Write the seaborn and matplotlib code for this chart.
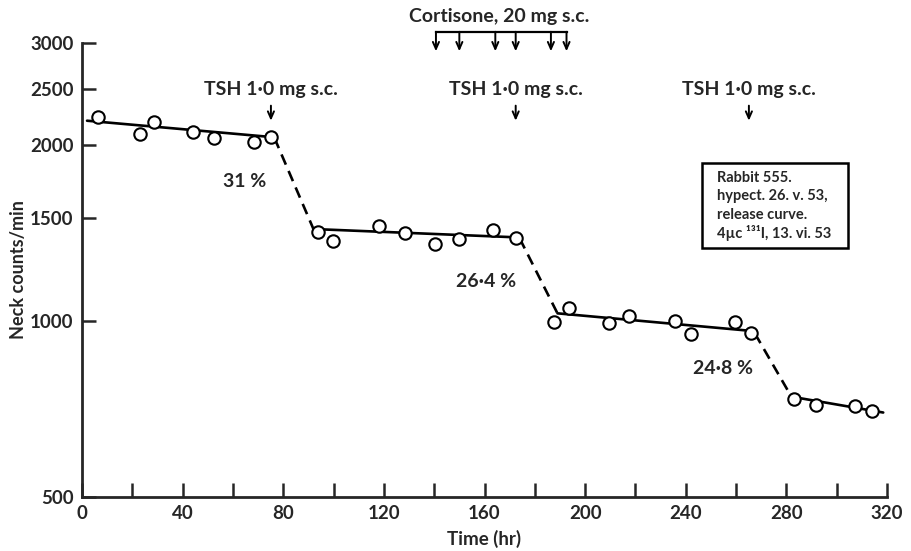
import numpy as np
import pandas as pd
import matplotlib
matplotlib.use("Agg")
import matplotlib.pyplot as plt
import matplotlib.ticker as mticker
from matplotlib.patches import Rectangle
import seaborn as sns

# ---- data ----
time_hr = [6.5, 23.1, 28.7, 44.2, 52.6, 68.5, 75.1,
           93.7, 99.9, 118.0, 128.4, 140.4, 150.0, 163.2, 172.4,
           187.6, 193.6, 209.6, 217.5, 235.8, 242.1, 259.4, 266.0,
           283.1, 291.9, 307.2, 313.9]
counts = [2234, 2094, 2196, 2111, 2060, 2025, 2065,
          1420, 1373, 1455, 1414, 1356, 1381, 1432, 1386,
          997, 1054, 991, 1021, 1002, 950, 996, 953,
          734, 717, 714, 702]

# fitted solid segments (start/end per phase)
fit_x = [[2.0, 75.0], [92.0, 172.0], [189.0, 266.0], [282.0, 318.5]]
fit_y = [[2205, 2068], [1438, 1392], [1031, 962], [742, 697]]
# dashed transitions
drop_x = [[76.5, 92.0], [174.0, 189.0], [267.5, 282.0]]
drop_y = [[2060, 1438], [1385, 1031], [952, 742]]

pct_labels = ["31 %", "26·4 %", "24·8 %"]
pct_x = [64.8, 160.5, 254.9]
pct_y = [1734, 1169, 830]

tsh_label = "TSH 1·0 mg s.c."
tsh_x = [75.1, 172.4, 265.1]
cortisone_label = "Cortisone, 20 mg s.c."
cortisone_x = [140.7, 150.0, 164.3, 172.4, 186.4, 192.6]

box_lines = ["Rabbit 555.", "hypect. 26. v. 53,", "release curve.", "4µc ¹³¹I, 13. vi. 53"]

x_ticks = [0, 40, 80, 120, 160, 200, 240, 280, 320]
y_ticks = [500, 1000, 1500, 2000, 2500, 3000]

# ---- style ----
sns.set_style("ticks")
plt.rcParams["font.family"] = ["Lato", "DejaVu Sans"]
plt.rcParams["font.weight"] = "bold"

fig = plt.figure(figsize=(9.11, 5.51), dpi=100)
ax = fig.add_axes([82/911, 1-496.7/551, 805/911, 454/551])

ax.set_yscale("log")
ax.set_xlim(0, 320)
ax.set_ylim(500, 3000)

lw = 1.9
for xs, ys in zip(fit_x, fit_y):
    sns.lineplot(x=xs, y=ys, ax=ax, color="black", lw=lw, zorder=2)
for xs, ys in zip(drop_x, drop_y):
    sns.lineplot(x=xs, y=ys, ax=ax, color="black", lw=lw, zorder=2,
                 dashes=False, linestyle=(0, (4.2, 2.6)))

df = pd.DataFrame({"t": time_hr, "c": counts})
sns.scatterplot(data=df, x="t", y="c", ax=ax, marker="o", s=80,
                facecolor="white", edgecolor="black", linewidth=1.5, zorder=3)

# axes styling
for s in ["top", "right"]:
    ax.spines[s].set_visible(False)
for s in ["left", "bottom"]:
    ax.spines[s].set_linewidth(2.0)
ax.set_xticks(x_ticks)
ax.xaxis.set_minor_locator(mticker.MultipleLocator(20))
ax.yaxis.set_major_locator(mticker.FixedLocator(y_ticks))
ax.yaxis.set_major_formatter(mticker.FixedFormatter([str(v) for v in y_ticks]))
ax.yaxis.set_minor_locator(mticker.NullLocator())
ax.tick_params(axis="both", which="both", direction="in", length=10, width=1.8,
               labelsize=13.5, pad=6)
for lab in ax.get_xticklabels() + ax.get_yticklabels():
    lab.set_fontweight("bold")

ax.set_xlabel("Time (hr)", fontsize=13.5, fontweight="bold", labelpad=6)
ax.set_ylabel("Neck counts/min", fontsize=13, fontweight="bold", labelpad=2)

arrow_kw = dict(arrowstyle="->,head_length=0.5,head_width=0.22",
                color="black", lw=1.4, shrinkA=0, shrinkB=0)

# TSH annotations
for tx in tsh_x:
    ax.text(tx, 2490, tsh_label, ha="center", va="center", fontsize=14, fontweight="bold")
    ax.annotate("", xy=(tx, 2205), xytext=(tx, 2340), arrowprops=arrow_kw)

# percentages
for lab, px_, py_ in zip(pct_labels, pct_x, pct_y):
    ax.text(px_, py_, lab, ha="center", va="center", fontsize=14, fontweight="bold")

# cortisone bracket
ytop = 3132
ax.plot([cortisone_x[0], cortisone_x[-1]], [ytop, ytop], color="black", lw=1.6,
        clip_on=False, solid_capstyle="projecting")
for cx in cortisone_x:
    ax.annotate("", xy=(cx, 2900), xytext=(cx, ytop), annotation_clip=False,
                arrowprops=arrow_kw)
ax.text(165.7, 3330, cortisone_label, ha="center", va="center", fontsize=14,
        fontweight="bold", clip_on=False)

# info box
ax.add_patch(Rectangle((0.770, 0.547), 0.181, 0.187, transform=ax.transAxes,
                       fill=False, edgecolor="black", lw=1.8, clip_on=False))
for i, line in enumerate(box_lines):
    ax.text(0.789, [0.702, 0.662, 0.621, 0.580][i], line, transform=ax.transAxes,
            ha="left", va="center", fontsize=10.5, fontweight="bold")

fig.savefig("out.png", dpi=100)
